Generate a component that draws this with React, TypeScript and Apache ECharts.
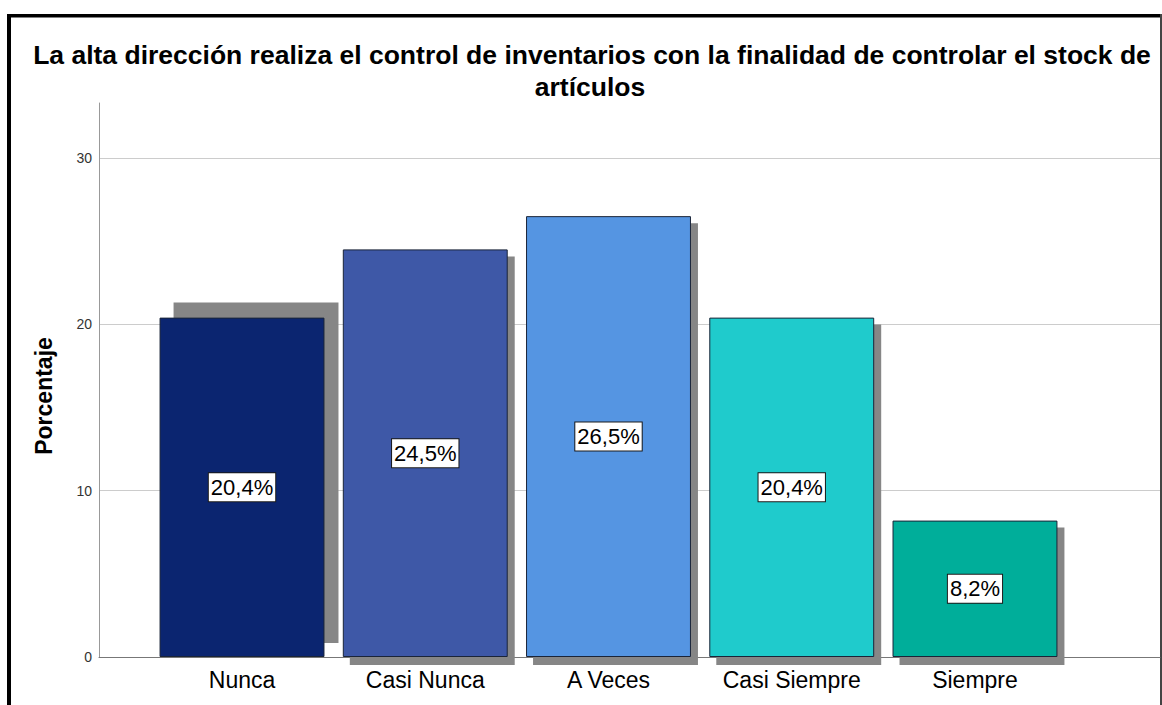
import React, { useEffect, useRef } from "react";
import * as echarts from "echarts";

const categories: string[] = ["Nunca", "Casi Nunca", "A Veces", "Casi Siempre", "Siempre"];
const percentages: number[] = [20.4, 24.5, 26.5, 20.4, 8.2];
const axisMax = 33.3;
const axisInterval = 10;

const titleLine1 = "La alta dirección realiza el control de inventarios con la finalidad de controlar el stock de";
const titleLine2 = "artículos";
const yName = "Porcentaje";

const barColors = ["#0b2570", "#3e58a7", "#5595e2", "#1fcbcc", "#00ae9a"];
const FONT = "'Liberation Sans', Arial, sans-serif";

function fmt(v: number): string {
  return v.toFixed(1).replace(".", ",") + "%";
}

export default function App() {
  const ref = useRef<HTMLDivElement>(null);
  useEffect(() => {
    if (!ref.current) return;
    const chart = echarts.init(ref.current, null, { renderer: "svg" });
    const option: any = {
      animation: false,
      backgroundColor: "#ffffff",
      textStyle: { fontFamily: FONT },
      grid: [
        { left: 150.4, right: 95.4, top: 103, bottom: 48 },
        { left: 99, right: 2, top: 103, bottom: 48 },
      ],
      xAxis: [
        {
          type: "category",
          gridIndex: 0,
          data: categories,
          axisLine: { show: false },
          axisTick: { show: false },
          axisLabel: { fontSize: 23, color: "#000", margin: 11, fontFamily: FONT },
        },
        {
          type: "value",
          gridIndex: 1,
          min: 0,
          max: 1,
          axisLine: { show: true, lineStyle: { color: "#777", width: 1 } },
          axisTick: { show: false },
          axisLabel: { show: false },
          splitLine: { show: false },
        },
      ],
      yAxis: [
        {
          type: "value",
          gridIndex: 0,
          min: 0,
          max: axisMax,
          interval: axisInterval,
          show: false,
          splitLine: { show: false },
        },
        {
          type: "value",
          gridIndex: 1,
          min: 0,
          max: axisMax,
          interval: axisInterval,
          axisLine: { show: true, lineStyle: { color: "#999", width: 1 } },
          axisTick: { show: false },
          axisLabel: { fontSize: 14, color: "#333", margin: 7, showMaxLabel: false, fontFamily: FONT },
          splitLine: { show: true, showMaxLine: false, lineStyle: { color: "#cccccc", width: 1 } },
        },
      ],
      series: [
        {
          type: "custom",
          xAxisIndex: 0,
          yAxisIndex: 0,
          z: 1,
          data: percentages.map((v, i) => [i, v]),
          renderItem: (params: any, api: any) => {
            const idx = api.value(0);
            const val = api.value(1);
            const top = api.coord([idx, val]);
            const bottom = api.coord([idx, 0]);
            const w = api.size([1, 0])[0] * 0.9;
            const dx = idx === 0 ? 14 : 7;
            const dy = idx === 0 ? -15 : 7;
            return {
              type: "rect",
              shape: { x: top[0] - w / 2 + dx, y: top[1] + dy, width: w, height: bottom[1] - top[1] + 1 },
              style: { fill: "#868686" },
            };
          },
        },
        {
          type: "bar",
          xAxisIndex: 0,
          yAxisIndex: 0,
          z: 2,
          barCategoryGap: "10%",
          data: percentages.map((v, i) => ({
            value: v,
            itemStyle: { color: barColors[i], borderColor: "#1a2438", borderWidth: 1 },
          })),
          label: {
            show: true,
            position: "inside",
            formatter: (p: any) => fmt(p.value),
            fontSize: 22,
            color: "#000",
            fontFamily: FONT,
            backgroundColor: "#ffffff",
            borderColor: "#1a1a1a",
            borderWidth: 1,
            padding: [4, 2, 2, 2],
          },
        },
      ],
      graphic: [
        {
          type: "text",
          x: 592,
          y: 41,
          style: {
            text: titleLine1,
            fontSize: 26.5,
            fontWeight: "bold",
            fontFamily: FONT,
            fill: "#000",
            align: "center",
            verticalAlign: "top",
          },
        },
        {
          type: "text",
          x: 590,
          y: 73,
          style: {
            text: titleLine2,
            fontSize: 26.5,
            fontWeight: "bold",
            fontFamily: FONT,
            fill: "#000",
            align: "center",
            verticalAlign: "top",
          },
        },
        {
          type: "text",
          x: 44,
          y: 396,
          rotation: Math.PI / 2,
          style: {
            text: yName,
            fontSize: 23,
            fontWeight: "bold",
            fontFamily: FONT,
            fill: "#000",
            align: "center",
            verticalAlign: "middle",
          },
        },
        { type: "rect", shape: { x: 7, y: 14, width: 1155, height: 3.5 }, style: { fill: "#000" } },
        { type: "rect", shape: { x: 7, y: 14, width: 4, height: 691 }, style: { fill: "#000" } },
        { type: "rect", shape: { x: 1160, y: 14, width: 2, height: 691 }, style: { fill: "#444" } },
      ],
    };
    chart.setOption(option);
    return () => chart.dispose();
  }, []);
  return (
    <div
      ref={ref}
      style={{ position: "absolute", left: 0, top: 0, width: 1162, height: 705, background: "#fff" }}
    />
  );
}
